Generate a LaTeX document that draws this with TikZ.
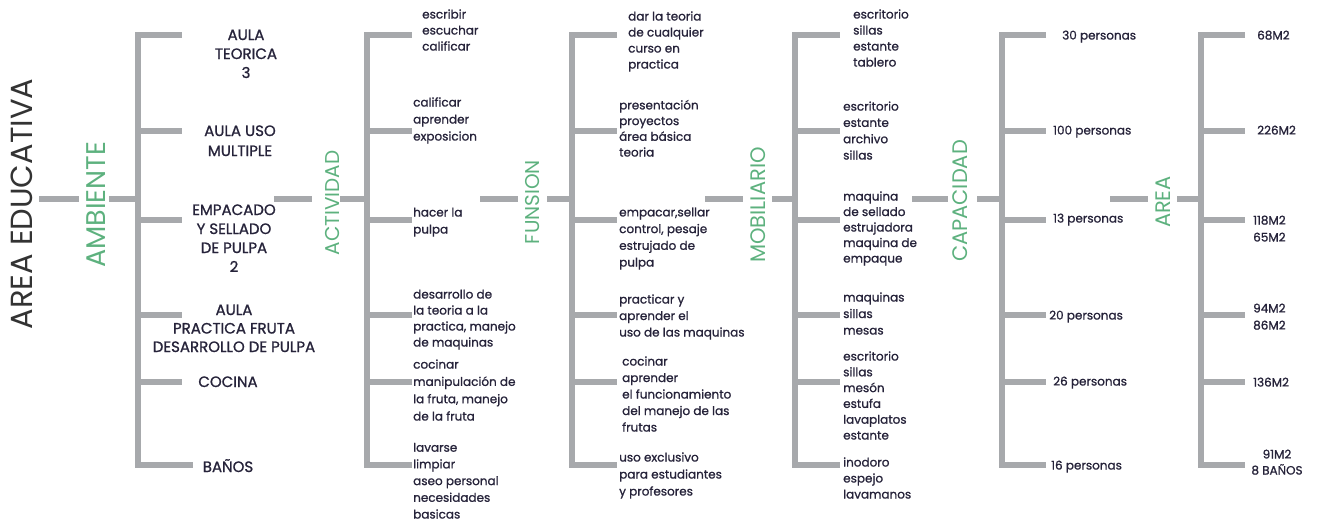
\documentclass[tikz,border=0pt]{standalone}
\usepackage{fontspec}
\setmainfont{Poppins}
\newfontfamily\lblfont[FakeBold=1.1]{Poppins}
\definecolor{lg}{HTML}{A7A9AC}
\definecolor{gr}{HTML}{5DB17E}
\definecolor{tx}{HTML}{26233A}
\definecolor{tt}{HTML}{333333}
\begin{document}
\begin{tikzpicture}[x=1pt,y=-1pt,
  bar/.style={draw=lg,line width=5.5pt},
  head/.style={rotate=90,text=gr,inner sep=0pt,anchor=center},
  uplab/.style={text=tx,inner sep=0pt,align=center,anchor=base,font=\lblfont\fontsize{15}{#1}\selectfont},
  uplab/.default=19,
  lab/.style={text=tx,inner sep=0pt,align=left,anchor=base west,font=\lblfont\fontsize{12}{#1}\selectfont},
  lab/.default=16.3,
  num/.style={text=tx,inner sep=0pt,align=left,anchor=base west,font=\lblfont\fontsize{12}{17}\selectfont}]
\useasboundingbox (0,0) rectangle (1322,525);

% bracket coordinates
\foreach \col/\bx/\ex in {amb/138/182, act/367/412, fun/572/617, mob/795/840, cap/1002/1046, are/1201/1245} {
  \foreach \i/\y in {1/35,2/131,3/220,4/315,5/382,6/465} {
    \coordinate (\col-s\i) at (\bx,\y);
    \coordinate (\col-e\i) at (\ex,\y);
  }
}
\coordinate (amb-e6) at (193,465);

\foreach \col in {amb,act,fun,mob,cap,are} {
  \draw[bar] (\col-e1) -- (\col-s1) -- (\col-s6) -- (\col-e6);
  \foreach \i in {2,...,5} \draw[bar] (\col-s\i) -- (\col-e\i);
}

% headings
\node[head,text=tt,font=\fontsize{30.5}{30.5}\selectfont] (title) at (22,204) {AREA EDUCATIVA};
\node[head,font=\fontsize{27}{27}\selectfont] (hamb) at (96,205) {AMBIENTE};
\node[head,font=\fontsize{20}{20}\selectfont] (hact) at (332,203) {ACTIVIDAD};
\node[head,font=\fontsize{20}{20}\selectfont] (hfun) at (533,202) {FUNSION};
\node[head,font=\fontsize{21}{21}\selectfont] (hmob) at (758,205) {MOBILIARIO};
\node[head,font=\fontsize{21}{21}\selectfont] (hcap) at (960,201) {CAPACIDAD};
\node[head,font=\fontsize{21}{21}\selectfont] (hare) at (1163,202) {AREA};

% connector ends
\foreach \n/\x in {t0/39,t1/79,a0/109,g0/274,g1/312,b0/340,h0/480,h1/518,c0/547,k0/705,k1/743,d0/772,m0/912,m1/948,e0/977,p0/1110,p1/1148,f0/1177}
  \coordinate (\n) at (\x,199);
\coordinate (amb-m) at (138,199);
\coordinate (act-m) at (367,199);
\coordinate (fun-m) at (572,199);
\coordinate (mob-m) at (795,199);
\coordinate (cap-m) at (1002,199);
\coordinate (are-m) at (1201,199);

\draw[bar] (t0) -- (t1);
\draw[bar] (a0) -- (amb-m);
\draw[bar] (g0) -- (g1);
\draw[bar] (b0) -- (act-m);
\draw[bar] (h0) -- (h1);
\draw[bar] (c0) -- (fun-m);
\draw[bar] (k0) -- (k1);
\draw[bar] (d0) -- (mob-m);
\draw[bar] (m0) -- (m1);
\draw[bar] (e0) -- (cap-m);
\draw[bar] (p0) -- (p1);
\draw[bar] (f0) -- (are-m);

% AMBIENTE labels (positioned at the baseline of the last line)
\node[uplab] (e1) at (246,78) {AULA\\TEORICA\\3};
\node[uplab=20] (e2) at (240,156) {AULA USO\\MULTIPLE};
\node[uplab] (e3) at (234,272) {EMPACADO\\Y SELLADO\\DE PULPA\\2};
\node[uplab=18.5] (e4) at (234,352) {AULA\\PRACTICA FRUTA\\DESARROLLO DE PULPA};
\node[uplab] (e5) at (228,387) {COCINA};
\node[uplab] (e6) at (228,472) {BAÑOS};

% ACTIVIDAD labels
\node[lab=16] (a1) at (422,50.5) {escribir\\escuchar\\calificar};
\node[lab=17] (a2) at (413,140.5) {calificar\\aprender\\exposicion};
\node[lab=17] (a3) at (413,233.5) {hacer la\\pulpa};
\node[lab=16] (a4) at (413,346.5) {desarrollo de\\la teoria a la\\practica, manejo\\de maquinas};
\node[lab=17.3] (a5) at (413,420.5) {cocinar\\manipulación de\\la fruta, manejo\\de la fruta};
\node[lab=16.7] (a6) at (413,518.5) {lavarse\\limpiar\\aseo personal\\necesidades\\basicas};

% FUNSION labels
\node[lab=16] (f1) at (628,68.5) {dar la teoria\\de cualquier\\curso en\\practica};
\node[lab=15.7] (f2) at (619,156.5) {presentación\\proyectos\\área básica\\teoria};
\node[lab=16.7] (f3) at (619,266.5) {empacar,sellar\\control, pesaje\\estrujado de\\pulpa};
\node[lab=16.5] (f4) at (619,336.5) {practicar y\\aprender el\\uso de las maquinas};
\node[lab=16.5] (f5) at (622,431.5) {cocinar\\aprender\\el funcionamiento\\del manejo de las\\frutas};
\node[lab=17] (f6) at (619,495.5) {uso exclusivo\\para estudiantes\\y profesores};

% MOBILIARIO labels
\node[lab=16] (m1n) at (853,66.5) {escritorio\\sillas\\estante\\tablero};
\node[lab=16.3] (m2n) at (843,159.5) {escritorio\\estante\\archivo\\sillas};
\node[lab=15.5] (m3n) at (843,262.5) {maquina\\de sellado\\estrujadora\\maquina de\\empaque};
\node[lab=16.5] (m4n) at (843,334.5) {maquinas\\sillas\\mesas};
\node[lab=15.8] (m5n) at (843,439.5) {escritorio\\sillas\\mesón\\estufa\\lavaplatos\\estante};
\node[lab=16] (m6n) at (843,498.5) {inodoro\\espejo\\lavamanos};

% CAPACIDAD labels
\node[num] (c1) at (1062,39.5) {30 personas};
\node[num] (c2) at (1053,134.5) {100 personas};
\node[num] (c3) at (1053,222.5) {13 personas};
\node[num] (c4) at (1049,319.5) {20 personas};
\node[num] (c5) at (1053,385.5) {26 personas};
\node[num] (c6) at (1051,469.5) {16 personas};

% AREA labels
\node[num] (r1) at (1257,39.5) {68M2};
\node[num] (r2) at (1257,134.5) {226M2};
\node[num] (r3) at (1253,241.5) {118M2\\65M2};
\node[num] (r4) at (1253,329.5) {94M2\\86M2};
\node[num] (r5) at (1253,386.5) {136M2};
\node[num,align=center,anchor=base,font=\lblfont\fontsize{12}{16}\selectfont] (r6) at (1277,474.5) {91M2\\8 BAÑOS};
\end{tikzpicture}
\end{document}
